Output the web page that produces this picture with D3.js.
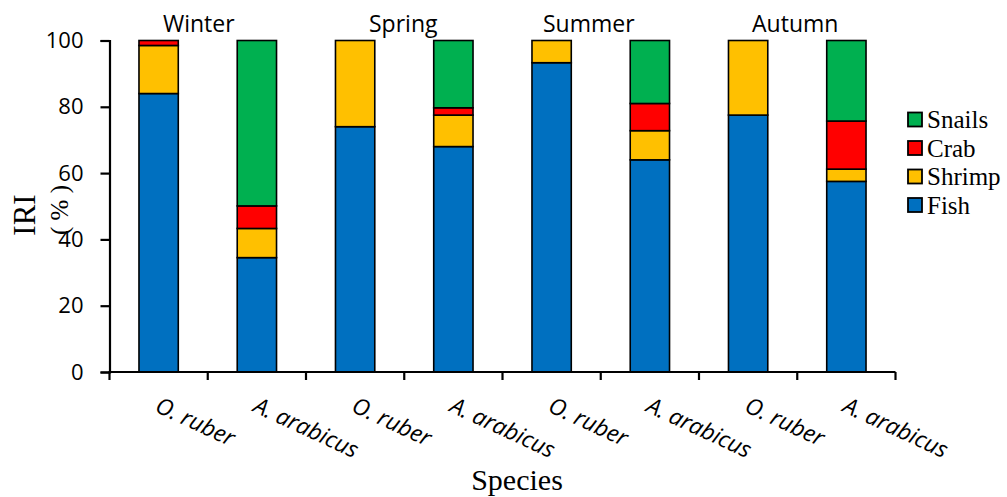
<!DOCTYPE html>
<html><head><meta charset="utf-8">
<script src="https://cdn.jsdelivr.net/npm/d3@7"></script>
<style>body{margin:0;background:#fff}svg{display:block}</style>
</head><body>
<svg id="c" width="1007" height="497"></svg>
<script>
const seasons = ["Winter", "Spring", "Summer", "Autumn"];
const species = ["O. ruber", "A. arabicus"];
const categories = ["Winter|O. ruber","Winter|A. arabicus","Spring|O. ruber","Spring|A. arabicus","Summer|O. ruber","Summer|A. arabicus","Autumn|O. ruber","Autumn|A. arabicus"];
const fish   = [84, 34.5, 74, 68, 93.3, 64, 77.5, 57.5];
const shrimp = [14.5, 8.8, 26, 9.5, 6.7, 8.8, 22.5, 3.7];
const crab   = [1.5, 6.8, 0, 2.2, 0, 8.2, 0, 14.5];
const snails = [0, 49.9, 0, 20.3, 0, 19, 0, 24.3];
const seriesNames = ["Fish", "Shrimp", "Crab", "Snails"];
const yTicks = [0, 20, 40, 60, 80, 100];

const colors = {Fish:"#0070C0", Shrimp:"#FFC000", Crab:"#FF0000", Snails:"#00B050"};
const rows = categories.map((c,i)=>({cat:c, Fish:fish[i], Shrimp:shrimp[i], Crab:crab[i], Snails:snails[i]}));

const svg = d3.select("#c");
const x = d3.scaleBand().domain(categories).range([109.5, 895.5]).padding(0);
const y = d3.scaleLinear().domain([0,100]).range([372, 40.5]);
const bw = x.bandwidth()*0.4;

const stack = d3.stack().keys(seriesNames)(rows);
const g = svg.append("g");
stack.forEach(layer=>{
  g.selectAll(null).data(layer.filter(d=>d[1]-d[0]>0)).enter().append("rect")
    .attr("x", d=>x(d.data.cat)+x.bandwidth()/2-bw/2)
    .attr("width", bw)
    .attr("y", d=>y(d[1]))
    .attr("height", d=>y(d[0])-y(d[1]))
    .attr("fill", colors[layer.key])
    .attr("stroke", "#000").attr("stroke-width", 1.6);
});

// Y axis
const ya = svg.append("g").attr("transform","translate(109.5,0)")
  .call(d3.axisLeft(y).tickValues(yTicks).tickSize(9).tickPadding(17));
ya.select(".domain").attr("stroke","#000").attr("stroke-width",2.2);
ya.selectAll(".tick line").attr("stroke","#000").attr("stroke-width",2.2);
ya.selectAll(".tick text").attr("font-family","Open Sans").attr("font-size",22).attr("fill","#000");

// X axis with boundary ticks
const boundaries = d3.range(categories.length+1).map(i=>x.range()[0]+i*x.step());
svg.append("line").attr("x1",x.range()[0]-1).attr("x2",x.range()[1]).attr("y1",372).attr("y2",372)
  .attr("stroke","#000").attr("stroke-width",2.2);
svg.selectAll(null).data(boundaries).enter().append("line")
  .attr("x1",d=>d).attr("x2",d=>d).attr("y1",372).attr("y2",380)
  .attr("stroke","#000").attr("stroke-width",2.2);

// X labels
svg.selectAll(null).data(categories).enter().append("text")
  .attr("transform", d=>`translate(${x(d)+x.bandwidth()/2-5},411) rotate(25)`)
  .attr("font-family","Open Sans").attr("font-style","italic").attr("font-size",23)
  .attr("fill","#000")
  .text(d=>d.split("|")[1]);

// Season labels
const seasonDx = [-9, -1, -12, -2];
svg.selectAll(null).data(seasons).enter().append("text")
  .attr("x",(d,i)=>x(categories[2*i+1])+seasonDx[i])
  .attr("y",32)
  .attr("text-anchor","middle")
  .attr("font-family","Open Sans").attr("font-size",23).attr("fill","#000")
  .text(d=>d);

// Axis titles
svg.append("text").attr("transform","translate(35,215) rotate(-90)")
  .attr("text-anchor","middle").attr("font-family","Liberation Serif").attr("font-size",31).attr("fill","#000").text("IRI");
svg.append("text").attr("transform","translate(68,210) rotate(-90)")
  .attr("text-anchor","middle").attr("font-family","Liberation Serif").attr("font-size",25).attr("fill","#000").text("( % )");
svg.append("text").attr("x",517).attr("y",490)
  .attr("text-anchor","middle").attr("font-family","Liberation Serif").attr("font-size",30).attr("fill","#000").text("Species");

// Legend
const legendOrder = ["Snails","Crab","Shrimp","Fish"];
const lg = svg.append("g");
legendOrder.forEach((k,i)=>{
  const cy = 119.5 + i*28.5;
  lg.append("rect").attr("x",908).attr("y",cy-7).attr("width",14).attr("height",14)
    .attr("fill",colors[k]).attr("stroke","#000").attr("stroke-width",1.8);
  lg.append("text").attr("x",927).attr("y",cy+8.5)
    .attr("font-family","Liberation Serif").attr("font-size",25).attr("fill","#000").text(k);
});
</script>
</body></html>
